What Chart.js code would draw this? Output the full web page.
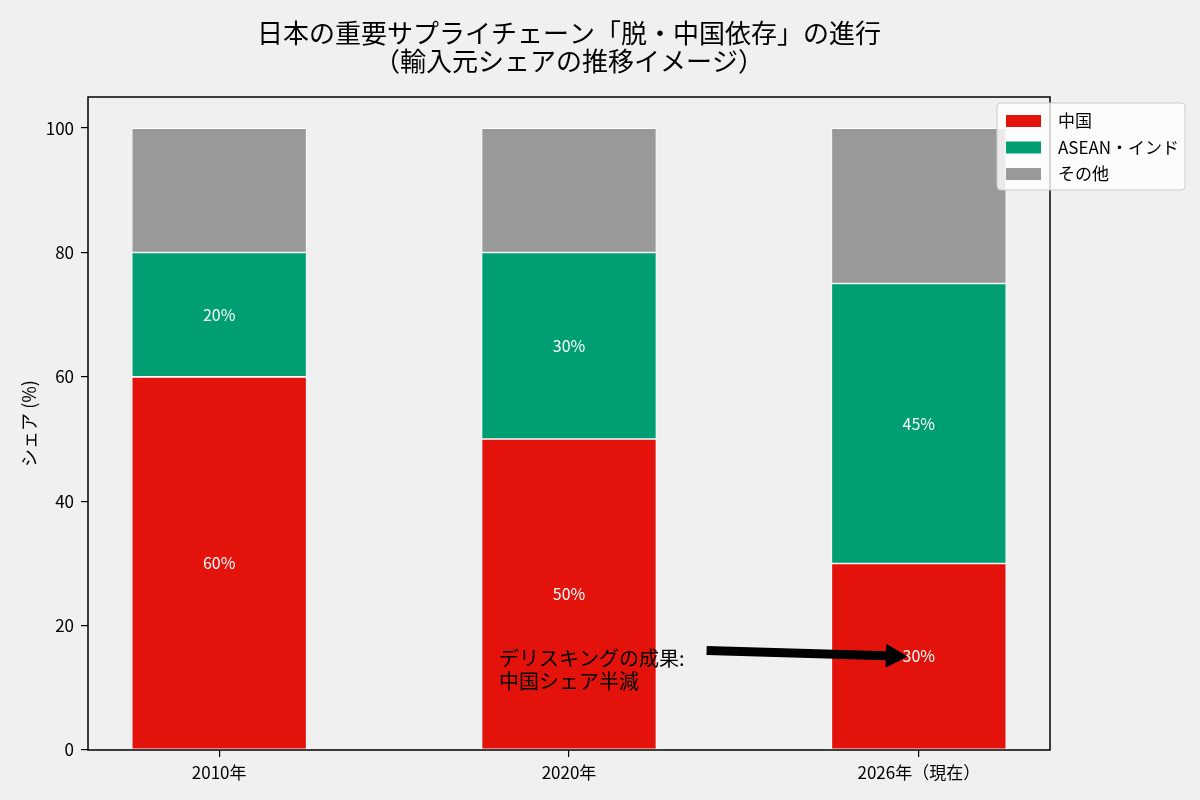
<!DOCTYPE html>
<html lang="ja">
<head>
<meta charset="utf-8">
<title>脱・中国依存の進行</title>
<script src="https://cdn.jsdelivr.net/npm/chart.js@4.4.1/dist/chart.umd.min.js"></script>
<style>
  html, body { margin: 0; padding: 0; background: #f0f0f0; }
  #wrap { width: 1200px; height: 800px; }
</style>
</head>
<body>
<div id="wrap"><canvas id="chart"></canvas></div>
<script>
const years = ['2010年', '2020年', '2026年（現在）'];
const seriesNames = ['中国', 'ASEAN・インド', 'その他'];
const china = [60, 50, 30];
const aseanIndia = [20, 30, 45];
const others = [20, 20, 25];
const yTicks = [0, 20, 40, 60, 80, 100];
const titleLines = ['日本の重要サプライチェーン「脱・中国依存」の進行', '（輸入元シェアの推移イメージ）'];
const noteLines = ['デリスキングの成果:', '中国シェア半減'];
const noteFrom = [0.8, 17];
const noteTo = [2, 15];

const FONT = '"Noto Sans CJK JP", "Noto Sans", sans-serif';
Chart.defaults.font.family = FONT;
Chart.defaults.color = '#000';

function toPoints(values) {
  return values.map((v, i) => ({ x: i, y: v }));
}

const decor = {
  id: 'decor',
  beforeDraw(chart) {
    const { ctx, width, height } = chart;
    ctx.save();
    ctx.fillStyle = '#f0f0f0';
    ctx.fillRect(0, 0, width, height);
    ctx.restore();
  },
  afterDatasetsDraw(chart) {
    const ctx = chart.ctx;
    ctx.save();
    ctx.font = '16px ' + FONT;
    ctx.fillStyle = '#fff';
    ctx.textAlign = 'center';
    ctx.textBaseline = 'middle';
    chart.data.datasets.forEach((ds, i) => {
      if (!ds.showValues) return;
      chart.getDatasetMeta(i).data.forEach((bar, j) => {
        const { x, y, base } = bar.getProps(['x', 'y', 'base'], true);
        ctx.fillText(ds.data[j].y + '%', x, (y + base) / 2);
      });
    });
    ctx.restore();
  },
  afterDraw(chart) {
    const { ctx, chartArea: area } = chart;
    const xs = chart.scales.x, ys = chart.scales.y;
    ctx.save();

    // frame
    ctx.strokeStyle = '#000';
    ctx.lineWidth = 1.5;
    ctx.strokeRect(area.left, area.top, area.right - area.left, area.bottom - area.top);

    // title
    ctx.font = '26px ' + FONT;
    ctx.fillStyle = '#000';
    ctx.textAlign = 'center';
    ctx.textBaseline = 'middle';
    const cx = (area.left + area.right) / 2;
    ctx.fillText(titleLines[0], cx, 33);
    ctx.fillText(titleLines[1], cx, 61);

    // annotation
    const ax = xs.getPixelForValue(noteFrom[0]);
    const ay = ys.getPixelForValue(noteFrom[1]);
    const tx = xs.getPixelForValue(noteTo[0]);
    const ty = ys.getPixelForValue(noteTo[1]);
    ctx.font = '20px ' + FONT;
    ctx.textAlign = 'left';
    let w = 0;
    noteLines.forEach((line, i) => {
      ctx.fillText(line, ax, ay + 14 + i * 23);
      w = Math.max(w, ctx.measureText(line).width);
    });
    const len = Math.hypot(tx - ax, ty - ay);
    const ux = (tx - ax) / len, uy = (ty - ay) / len;
    const nx = -uy, ny = ux;
    const s0 = w / ux + 22, s1 = len - 11;
    const sx = ax + ux * s0, sy = ay + uy * s0;
    const px = ax + ux * s1, py = ay + uy * s1;
    const headLen = 22, headW = 12, shaftW = 4.5;
    const bx = px - ux * headLen, by = py - uy * headLen;
    ctx.beginPath();
    ctx.moveTo(sx + nx * shaftW, sy + ny * shaftW);
    ctx.lineTo(bx + nx * shaftW, by + ny * shaftW);
    ctx.lineTo(bx + nx * headW, by + ny * headW);
    ctx.lineTo(px, py);
    ctx.lineTo(bx - nx * headW, by - ny * headW);
    ctx.lineTo(bx - nx * shaftW, by - ny * shaftW);
    ctx.lineTo(sx - nx * shaftW, sy - ny * shaftW);
    ctx.closePath();
    ctx.fillStyle = '#000';
    ctx.fill();

    // legend
    const lx = area.right - 53, ly = area.top + 6;
    ctx.beginPath();
    ctx.roundRect(lx, ly, 188, 87, 4);
    ctx.fillStyle = 'rgba(255,255,255,0.8)';
    ctx.fill();
    ctx.strokeStyle = '#cccccc';
    ctx.lineWidth = 1;
    ctx.stroke();
    ctx.font = '17px ' + FONT;
    ctx.textBaseline = 'middle';
    chart.data.datasets.forEach((ds, i) => {
      const rowY = ly + 18 + i * 26.5;
      ctx.fillStyle = ds.backgroundColor;
      ctx.fillRect(lx + 9, rowY - 6, 35, 12);
      ctx.fillStyle = '#000';
      ctx.fillText(ds.label, lx + 61, rowY);
    });
    ctx.restore();
  }
};

const barStyle = {
  borderColor: '#ffffff',
  borderWidth: 0.8,
  borderSkipped: false,
  categoryPercentage: 0.5,
  barPercentage: 1.0
};

new Chart(document.getElementById('chart'), {
  type: 'bar',
  data: {
    datasets: [
      { label: seriesNames[0], data: toPoints(china), backgroundColor: '#e3120b', showValues: true, ...barStyle },
      { label: seriesNames[1], data: toPoints(aseanIndia), backgroundColor: '#009e73', showValues: true, ...barStyle },
      { label: seriesNames[2], data: toPoints(others), backgroundColor: '#999999', showValues: false, ...barStyle }
    ]
  },
  options: {
    responsive: true,
    maintainAspectRatio: false,
    devicePixelRatio: 1,
    animation: false,
    layout: { padding: { top: 97, right: 150, left: 0, bottom: 0 } },
    plugins: {
      legend: { display: false },
      title: { display: false },
      tooltip: { enabled: false }
    },
    scales: {
      x: {
        type: 'linear',
        stacked: true,
        min: -0.375,
        max: 2.375,
        offset: false,
        afterBuildTicks: scale => { scale.ticks = years.map((_, i) => ({ value: i })); },
        afterFit: scale => { scale.height = 50; },
        ticks: {
          autoSkip: false,
          maxRotation: 0,
          padding: 5,
          font: { size: 17 },
          color: '#000',
          callback: value => years[value]
        },
        grid: { offset: false, drawOnChartArea: false, drawTicks: true, tickLength: 7, color: '#000', lineWidth: 1.2 },
        border: { display: false }
      },
      y: {
        stacked: true,
        min: 0,
        max: 105,
        afterBuildTicks: scale => { scale.ticks = yTicks.map(v => ({ value: v })); },
        afterFit: scale => { scale.width = 88; },
        ticks: { padding: 7, font: { size: 17 }, color: '#000' },
        grid: { drawOnChartArea: false, drawTicks: true, tickLength: 7, color: '#000', lineWidth: 1.2 },
        border: { display: false },
        title: { display: true, text: 'シェア (%)', font: { size: 18 }, color: '#000', padding: { top: 18, bottom: 0 } }
      }
    }
  },
  plugins: [decor]
});
</script>
</body>
</html>
